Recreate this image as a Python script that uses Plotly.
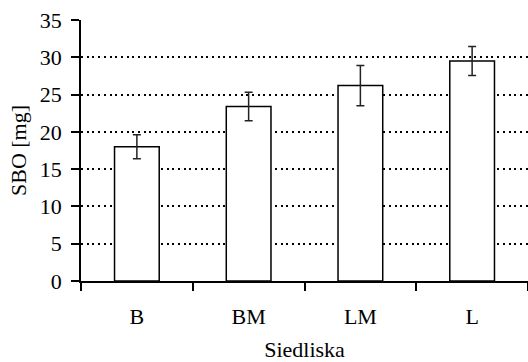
import plotly.graph_objects as go

categories = ["B", "BM", "LM", "L"]
values = [18.0, 23.4, 26.2, 29.5]
errors = [1.6, 1.9, 2.7, 1.95]
y_ticks = [0, 5, 10, 15, 20, 25, 30, 35]

font_family = "Liberation Serif"
fsize = 22

fig = go.Figure()
fig.add_trace(go.Bar(
    x=categories, y=values,
    width=0.4,
    marker=dict(color="white", line=dict(color="black", width=1.5)),
    error_y=dict(type="data", array=errors, visible=True,
                 color="#222222", thickness=1.5, width=4),
))

fig.update_layout(
    width=528, height=362,
    margin=dict(l=81, r=0, t=20, b=81),
    paper_bgcolor="white", plot_bgcolor="white",
    showlegend=False,
    font=dict(family=font_family, size=fsize, color="black"),
    xaxis=dict(
        type="category",
        range=[-0.5, 3.5],
        tickson="boundaries",
        ticks="outside", ticklen=8, tickwidth=1.5, tickcolor="black",
        showline=True, linecolor="black", linewidth=1.5,
        showgrid=False,
        ticklabelstandoff=15,
        tickfont=dict(family=font_family, size=fsize),
        title=dict(text="Siedliska", font=dict(family=font_family, size=fsize), standoff=14),
    ),
    yaxis=dict(
        range=[0, 35],
        tickvals=y_ticks,
        ticks="outside", ticklen=8, tickwidth=1.5, tickcolor="black",
        showline=True, linecolor="black", linewidth=1.5,
        showgrid=True, gridcolor="black", gridwidth=1.5, griddash="2px,3.7px",
        zeroline=False,
        ticklabelstandoff=5,
        tickfont=dict(family=font_family, size=fsize),
        title=dict(text="SBO [mg]", font=dict(family=font_family, size=fsize), standoff=7),
    ),
)

fig.write_html("out.html")
